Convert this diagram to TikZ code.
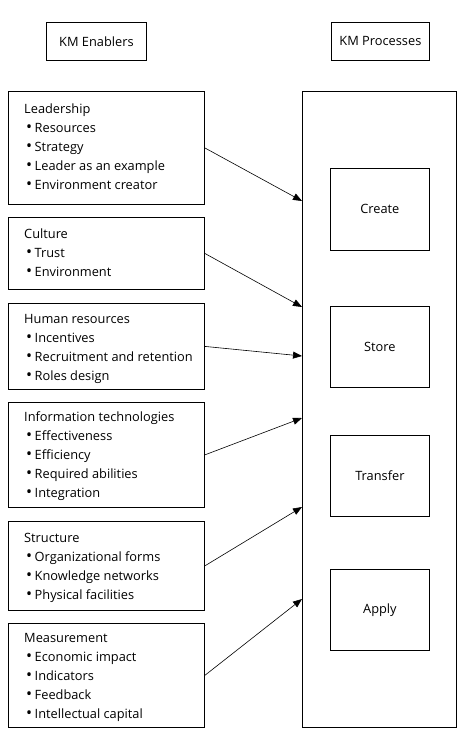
\documentclass[tikz,border=0pt]{standalone}
\usepackage{fontspec}
\setmainfont{Open Sans}
\usetikzlibrary{arrows.meta}
\newcommand{\itm}[1]{\hspace*{2pt}\raisebox{0.2pt}{\scalebox{1.25}{\textbullet}}\hspace{2.5pt}#1}
\begin{document}
\begin{tikzpicture}[x=1pt,y=-1pt,
  box/.style={draw,line width=0.8pt,inner sep=0pt,anchor=north west},
  txt/.style={inner sep=0pt,anchor=north west,align=left,font=\fontsize{12.8}{19}\selectfont},
  lbl/.style={font=\fontsize{12.8}{19}\selectfont},
  arr/.style={line width=0.6pt,-{Triangle[length=9pt,width=7pt]}}]
\useasboundingbox (0,0) rectangle (464,734);
% header boxes
\node[box,minimum width=100pt,minimum height=38pt,lbl] (en) at (46,22) {KM Enablers};
\node[box,minimum width=98pt,minimum height=38pt,lbl] (pr) at (331,22) {KM Processes};
% left boxes
\node[box,minimum width=196pt,minimum height=113pt] (lead) at (8,91) {};
\node[box,minimum width=196pt,minimum height=72pt] (cult) at (8,217) {};
\node[box,minimum width=196pt,minimum height=86pt] (hr) at (8,303) {};
\node[box,minimum width=196pt,minimum height=105pt] (it) at (8,402) {};
\node[box,minimum width=196pt,minimum height=89pt] (str) at (8,521) {};
\node[box,minimum width=196pt,minimum height=104pt] (meas) at (8,623) {};
% texts
\node[txt] (leadt) at (24,103) {\rule{0pt}{10pt}Leadership\\\itm{Resources}\\\itm{Strategy}\\\itm{Leader as an example}\\\itm{Environment creator}};
\node[txt] (cultt) at (24,228) {\rule{0pt}{10pt}Culture\\\itm{Trust}\\\itm{Environment}};
\node[txt] (hrt) at (24,313) {\rule{0pt}{10pt}Human resources\\\itm{Incentives}\\\itm{Recruitment and retention}\\\itm{Roles design}};
\node[txt] (itt) at (24,411) {\rule{0pt}{10pt}Information technologies\\\itm{Effectiveness}\\\itm{Efficiency}\\\itm{Required abilities}\\\itm{Integration}};
\node[txt] (strt) at (24,532) {\rule{0pt}{10pt}Structure\\\itm{Organizational forms}\\\itm{Knowledge networks}\\\itm{Physical facilities}};
\node[txt] (meast) at (24,632) {\rule{0pt}{10pt}Measurement\\\itm{Economic impact}\\\itm{Indicators}\\\itm{Feedback}\\\itm{Intellectual capital}};
% right big box and process boxes
\node[box,minimum width=154pt,minimum height=636pt] (big) at (302,91) {};
\node[box,minimum width=99pt,minimum height=82pt,lbl] (create) at (330,168) {Create};
\node[box,minimum width=99pt,minimum height=81pt,lbl] (store) at (330,306) {Store};
\node[box,minimum width=99pt,minimum height=81pt,lbl] (transfer) at (330,435) {Transfer};
\node[box,minimum width=99pt,minimum height=81pt,lbl] (apply) at (330,569) {Apply};
% arrow targets on the big box
\coordinate (a1) at (302,201);
\coordinate (a2) at (302,307);
\coordinate (a3) at (302,356);
\coordinate (a4) at (302,418);
\coordinate (a5) at (302,507);
\coordinate (a6) at (302,599);
\draw[arr] (lead.east) -- (a1);
\draw[arr] (cult.east) -- (a2);
\draw[arr] (hr.east) -- (a3);
\draw[arr] (it.east) -- (a4);
\draw[arr] (str.east) -- (a5);
\draw[arr] (meas.east) -- (a6);
\end{tikzpicture}
\end{document}
